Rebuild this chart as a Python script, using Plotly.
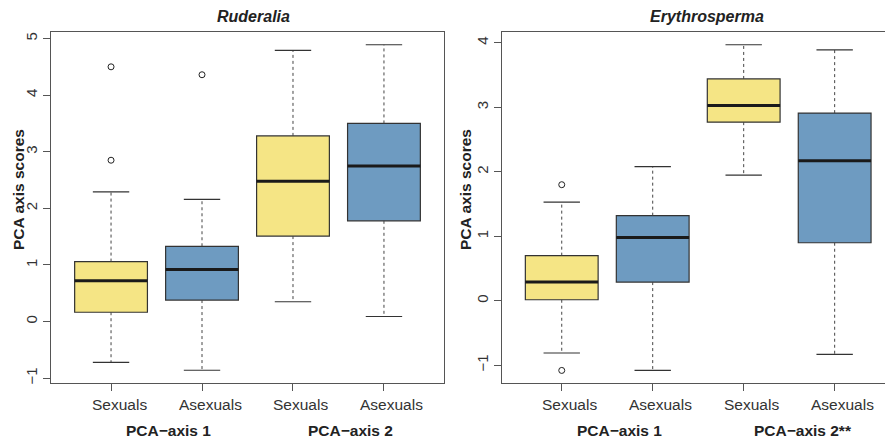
import plotly.graph_objects as go

# ---------------- data ----------------
groups = ["Sexuals", "Asexuals", "Sexuals", "Asexuals"]
positions = [1, 2, 3, 4]
axis_labels_left = ["PCA\u2212axis 1", "PCA\u2212axis 2"]
axis_labels_right = ["PCA\u2212axis 1", "PCA\u2212axis 2**"]

rud_lower = [-0.72, -0.86, 0.35, 0.09]
rud_q1 = [0.165, 0.38, 1.51, 1.78]
rud_median = [0.72, 0.92, 2.48, 2.75]
rud_q3 = [1.06, 1.33, 3.28, 3.50]
rud_upper = [2.29, 2.16, 4.79, 4.89]
rud_outliers = [[4.50, 2.85], [4.36], [], []]

ery_lower = [-0.81, -1.08, 1.95, -0.83]
ery_q1 = [0.016, 0.29, 2.77, 0.90]
ery_median = [0.29, 0.98, 3.03, 2.17]
ery_q3 = [0.70, 1.32, 3.44, 2.91]
ery_upper = [1.53, 2.08, 3.97, 3.89]
ery_outliers = [[1.80, -1.08], [], [], []]

rud_ticks = [-1, 0, 1, 2, 3, 4, 5]
ery_ticks = [-1, 0, 1, 2, 3, 4]

# ---------------- style ----------------
W, H = 885, 444
M_T, M_B = 32, 61
PH = H - M_T - M_B
YELLOW = "#F5E585"
BLUE = "#6E9BC1"
fills = [YELLOW, BLUE, YELLOW, BLUE]
FONT = "Liberation Sans, Arial, sans-serif"
BOXW = 0.8
CAPW = 0.4

fig = go.Figure()


def add_panel(xa, ya, lower, q1, med, q3, upper, outl):
    for p, lo, a, m, b, up, c in zip(positions, lower, q1, med, q3, upper, fills):
        fig.add_trace(go.Box(
            x=[p], q1=[a], median=[m], q3=[b], lowerfence=[a], upperfence=[b],
            width=BOXW, fillcolor=c, line=dict(color="#333333", width=1.2),
            whiskerwidth=0, boxpoints=False, hoverinfo="skip", showlegend=False,
            xaxis=xa, yaxis=ya))
    wx, wy, cx, cy, mx, my = [], [], [], [], [], []
    for p, lo, a, m, b, up in zip(positions, lower, q1, med, q3, upper):
        wx += [p, p, None, p, p, None]
        wy += [b, up, None, a, lo, None]
        cx += [p - CAPW / 2, p + CAPW / 2, None, p - CAPW / 2, p + CAPW / 2, None]
        cy += [up, up, None, lo, lo, None]
        mx += [p - BOXW / 2, p + BOXW / 2, None]
        my += [m, m, None]
    fig.add_trace(go.Scatter(x=wx, y=wy, mode="lines", xaxis=xa, yaxis=ya,
                             line=dict(color="#444444", width=1, dash="3px,3px"),
                             hoverinfo="skip", showlegend=False))
    fig.add_trace(go.Scatter(x=cx, y=cy, mode="lines", xaxis=xa, yaxis=ya,
                             line=dict(color="#333333", width=1.2),
                             hoverinfo="skip", showlegend=False))
    fig.add_trace(go.Scatter(x=mx, y=my, mode="lines", xaxis=xa, yaxis=ya,
                             line=dict(color="#1a1a1a", width=3),
                             hoverinfo="skip", showlegend=False))
    ox, oy = [], []
    for p, vals in zip(positions, outl):
        for v in vals:
            ox.append(p)
            oy.append(v)
    fig.add_trace(go.Scatter(x=ox, y=oy, mode="markers", xaxis=xa, yaxis=ya,
                             marker=dict(symbol="circle-open", size=6,
                                         color="#222222", line=dict(width=1)),
                             hoverinfo="skip", showlegend=False))


add_panel("x", "y", rud_lower, rud_q1, rud_median, rud_q3, rud_upper, rud_outliers)
add_panel("x2", "y2", ery_lower, ery_q1, ery_median, ery_q3, ery_upper, ery_outliers)

L1, R1 = 51, 444
L2 = 501.7
px_per_unit = (R1 - L1) / 4.32
x2_max = 0.34 + (W - L2) / px_per_unit

axis_common = dict(showgrid=False, zeroline=False, ticks="outside", ticklen=7,
                   tickcolor="#555555", linecolor="#555555", linewidth=1,
                   tickfont=dict(family=FONT, size=15, color="#333333"))

fig.update_layout(
    width=W, height=H,
    margin=dict(l=0, r=0, t=M_T, b=M_B),
    plot_bgcolor="white", paper_bgcolor="white",
    showlegend=False,
    xaxis=dict(domain=[L1 / W, R1 / W], range=[0.34, 4.66], tickvals=positions,
               showticklabels=False, mirror=True, showline=True, anchor="y",
               **axis_common),
    yaxis=dict(domain=[0, 1], range=[-1.085, 5.115], tickvals=rud_ticks,
               tickangle=-90, mirror=True, showline=True, anchor="x",
               **axis_common),
    xaxis2=dict(domain=[L2 / W, 1.0], range=[0.34, x2_max], tickvals=positions,
                showticklabels=False, mirror=True, showline=True, anchor="y2",
                **axis_common),
    yaxis2=dict(domain=[0, 1], range=[-1.275, 4.168], tickvals=ery_ticks,
                tickangle=-90, mirror=False, showline=True, anchor="x2",
                **axis_common),
)


def py(pix):
    return (H - M_B - pix) / PH


ann = []
# titles
ann.append(dict(text="<b><i>Ruderalia</i></b>", x=253.5 / W, y=py(17), xref="paper",
                yref="paper", showarrow=False, font=dict(family=FONT, size=16, color="#222222"),
                xanchor="center", yanchor="middle"))
ann.append(dict(text="<b><i>Erythrosperma</i></b>", x=707 / W, y=py(17), xref="paper",
                yref="paper", showarrow=False, font=dict(family=FONT, size=16, color="#222222"),
                xanchor="center", yanchor="middle"))
# y titles
for xp in [18, 465]:
    ann.append(dict(text="<b>PCA axis scores</b>", x=xp / W, y=py(190), xref="paper",
                    yref="paper", showarrow=False, textangle=-90,
                    font=dict(family=FONT, size=15.5, color="#222222"),
                    xanchor="center", yanchor="middle"))
# x category labels and group labels
for xa, glabels in [("x", axis_labels_left), ("x2", axis_labels_right)]:
    for p, g in zip(positions, groups):
        ann.append(dict(text=g, x=p, xref=xa, y=py(404), yref="paper", xshift=8,
                        showarrow=False, font=dict(family=FONT, size=15.5, color="#333333"),
                        xanchor="center", yanchor="middle"))
    for i, gl in enumerate(glabels):
        mid = (positions[2 * i] + positions[2 * i + 1]) / 2
        shift = 12 if not gl.endswith("**") else 14
        ann.append(dict(text="<b>" + gl + "</b>", x=mid, xref=xa, y=py(430.5), yref="paper",
                        xshift=shift, showarrow=False,
                        font=dict(family=FONT, size=15.5, color="#222222"),
                        xanchor="center", yanchor="middle"))

fig.update_layout(annotations=ann)
fig.write_html("out.html", config={"displayModeBar": False},
               post_script="document.body.style.margin='0';document.body.style.overflow='hidden';")
